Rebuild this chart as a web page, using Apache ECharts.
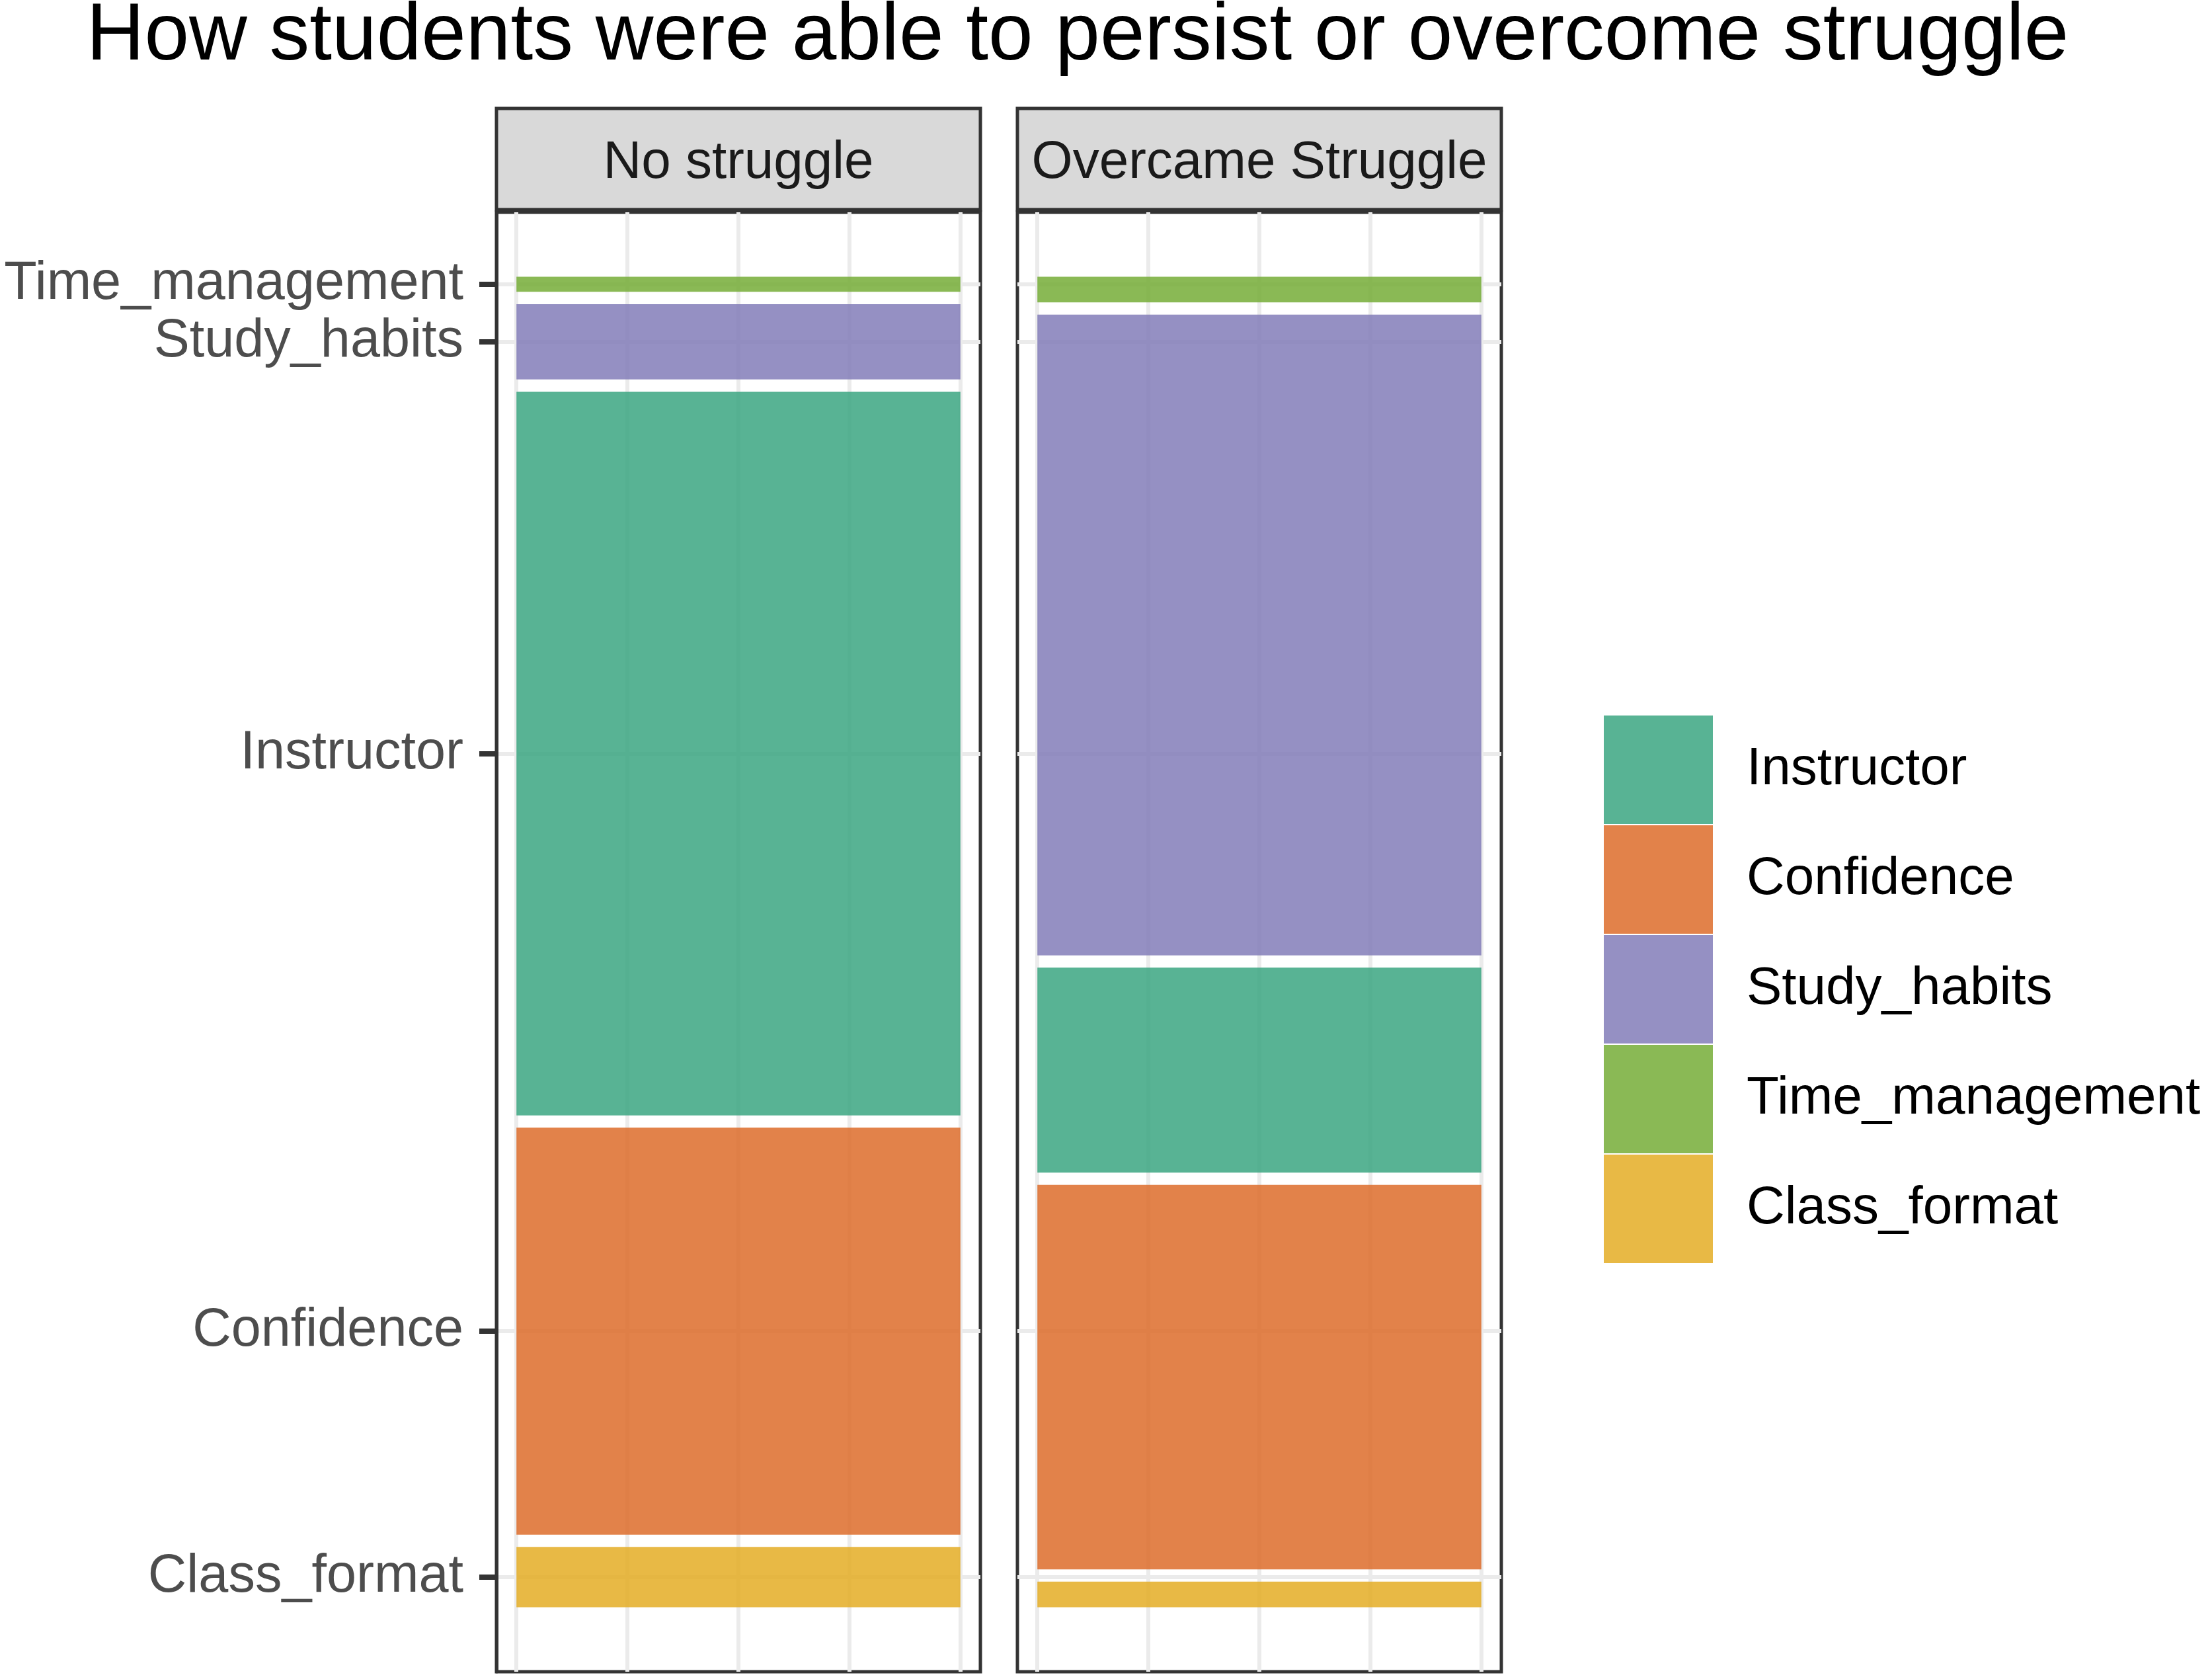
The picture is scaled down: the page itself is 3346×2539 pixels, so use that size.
<!DOCTYPE html>
<html>
<head>
<meta charset="utf-8">
<script src="https://cdn.jsdelivr.net/npm/echarts@6/dist/echarts.min.js"></script>
<style>
html,body{margin:0;padding:0;background:#fff;}
#chart{width:3346px;height:2539px;}
</style>
</head>
<body>
<div id="chart"></div>
<script>
// ---- data ----
const titleText = 'How students were able to persist or overcome struggle';
const panels = ['No struggle', 'Overcame Struggle'];
// stacking order, bottom to top
const categories = ['Class_format', 'Confidence', 'Instructor', 'Study_habits', 'Time_management'];
const legendOrder = ['Instructor', 'Confidence', 'Study_habits', 'Time_management', 'Class_format'];
// counts in order of `categories`
const noStruggleCounts = [4, 27, 48, 5, 1];
const overcameCounts = [1, 15, 8, 25, 1];
const categoryColors = {
  Instructor: 'rgba(59,166,129,0.85)',
  Confidence: 'rgba(221,108,42,0.85)',
  Study_habits: 'rgba(130,124,184,0.85)',
  Time_management: 'rgba(117,173,55,0.85)',
  Class_format: 'rgba(228,173,37,0.85)'
};

// ---- layout / style constants ----
const FONT = '"Liberation Sans", Arial, Helvetica, sans-serif';
const GAP = 0.0092;           // spacing between mosaic tiles (y units)
const X_EXP = 0.045, Y_EXP = 0.0485;
const panelLeft = [751, 1539];
const panelWidth = 732;
const panelTop = 321, panelHeight = 2207;
const stripTop = 164, stripHeight = 153;

// mosaic tile extents
function tiles(counts) {
  const total = counts.reduce((a, b) => a + b, 0);
  const avail = 1 - GAP * (counts.length - 1);
  let y = 0;
  return counts.map(c => {
    const h = c / total * avail;
    const t = [y, y + h];
    y += h + GAP;
    return t;
  });
}
const panelCounts = [noStruggleCounts, overcameCounts];
const panelTiles = panelCounts.map(tiles);
const tickCenters = panelTiles[0].map(t => (t[0] + t[1]) / 2);

function labelFor(v) {
  for (let i = 0; i < tickCenters.length; i++) {
    if (Math.abs(tickCenters[i] - v) < 1e-6) return categories[i];
  }
  return '';
}

const chart = echarts.init(document.getElementById('chart'), null, {renderer: 'canvas'});

const grids = panels.map((p, i) => ({
  left: panelLeft[i], top: panelTop, width: panelWidth, height: panelHeight,
  show: true, borderColor: '#333333', borderWidth: 5, backgroundColor: 'transparent',
  containLabel: false
}));

const xAxes = panels.map((p, i) => ({
  type: 'value', gridIndex: i, min: -X_EXP, max: 1 + X_EXP,
  axisLine: {show: false, onZero: false},
  axisLabel: {show: false},
  axisTick: {show: false, customValues: [0, 0.25, 0.5, 0.75, 1]},
  splitLine: {show: true, lineStyle: {color: '#ebebeb', width: 6}}
}));

const yAxes = panels.map((p, i) => ({
  type: 'value', gridIndex: i, min: -Y_EXP, max: 1 + Y_EXP, position: 'left',
  axisLine: {show: i === 0, onZero: false, lineStyle: {color: '#333333', width: 5}},
  axisLabel: {
    show: i === 0, customValues: tickCenters, formatter: labelFor,
    fontSize: 81, color: '#4d4d4d', fontFamily: FONT, margin: 50, padding: [22, 0, 0, 0]
  },
  axisTick: {show: i === 0, inside: false, customValues: tickCenters, length: 26,
    lineStyle: {color: '#333333', width: 8}},
  splitLine: {show: true, lineStyle: {color: '#ebebeb', width: 6}}
}));

const series = [];
panels.forEach((p, pi) => {
  categories.forEach((cat, ci) => {
    series.push({
      type: 'custom', name: cat, xAxisIndex: pi, yAxisIndex: pi,
      itemStyle: {color: categoryColors[cat]},
      data: [[panelTiles[pi][ci][0], panelTiles[pi][ci][1]]],
      encode: {y: [0, 1]},
      renderItem: function (params, api) {
        const p0 = api.coord([0, api.value(0)]);
        const p1 = api.coord([1, api.value(1)]);
        return {
          type: 'rect',
          shape: {x: p0[0], y: p1[1], width: p1[0] - p0[0], height: p0[1] - p1[1]},
          style: api.style()
        };
      }
    });
  });
});

const graphics = [];
panels.forEach((p, i) => {
  graphics.push({
    type: 'rect', shape: {x: panelLeft[i], y: stripTop, width: panelWidth, height: stripHeight},
    style: {fill: '#d9d9d9', stroke: '#333333', lineWidth: 5}, z: 10
  });
  graphics.push({
    type: 'text', x: panelLeft[i] + panelWidth / 2, y: stripTop + stripHeight / 2 + 6, z: 11,
    style: {text: p, fill: '#1a1a1a', fontSize: 80, fontFamily: FONT, align: 'center', verticalAlign: 'middle'}
  });
});

chart.setOption({
  animation: false,
  backgroundColor: '#ffffff',
  title: {
    text: titleText, left: 1630, top: -4, textAlign: 'center', padding: 0,
    textStyle: {fontSize: 121.5, fontWeight: 'normal', color: '#000000', fontFamily: FONT, lineHeight: 121.5}
  },
  legend: {
    data: legendOrder, orient: 'vertical', left: 2426, top: 1082, padding: 0,
    itemWidth: 165, itemHeight: 164, itemGap: 2, icon: 'rect', selectedMode: false,
    textStyle: {fontSize: 80, color: '#000000', fontFamily: FONT, padding: [18, 0, 0, 46]}
  },
  grid: grids,
  xAxis: xAxes,
  yAxis: yAxes,
  series: series,
  graphic: graphics
});
</script>
</body>
</html>
